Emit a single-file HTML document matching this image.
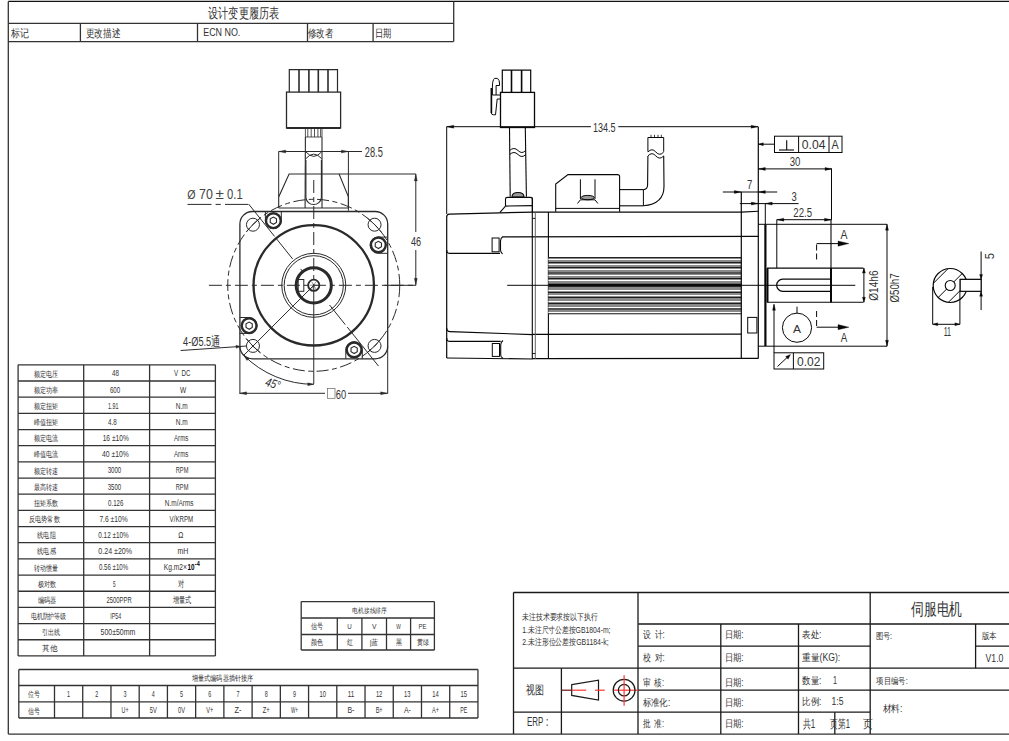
<!DOCTYPE html>
<html><head><meta charset="utf-8"><style>
html,body{margin:0;padding:0;background:#fff;width:1009px;height:741px;overflow:hidden}
svg{display:block}
text{font-family:"Liberation Sans", sans-serif}
</style></head><body>
<svg width="1009" height="741" viewBox="0 0 1009 741">
<rect x="0" y="0" width="1009" height="741" fill="#fff"/>
<line x1="8.30" y1="1.40" x2="1009.00" y2="1.40" stroke="#111" stroke-width="1.3"/>
<line x1="8.30" y1="1.40" x2="8.30" y2="734.00" stroke="#333" stroke-width="1.3"/>
<line x1="8.30" y1="734.20" x2="1009.00" y2="734.20" stroke="#333" stroke-width="1.3"/>
<line x1="8.30" y1="23.30" x2="453.70" y2="23.30" stroke="#333" stroke-width="1.3"/>
<line x1="8.30" y1="41.60" x2="453.70" y2="41.60" stroke="#333" stroke-width="1.3"/>
<line x1="453.70" y1="1.40" x2="453.70" y2="41.60" stroke="#333" stroke-width="1.3"/>
<line x1="80.40" y1="23.30" x2="80.40" y2="41.60" stroke="#333" stroke-width="1.3"/>
<line x1="197.50" y1="23.30" x2="197.50" y2="41.60" stroke="#333" stroke-width="1.3"/>
<line x1="307.50" y1="23.30" x2="307.50" y2="41.60" stroke="#333" stroke-width="1.3"/>
<line x1="373.10" y1="23.30" x2="373.10" y2="41.60" stroke="#333" stroke-width="1.3"/>
<text x="208.00" y="17.50" font-size="14" fill="#333" font-weight="normal" font-style="normal" textLength="71.20" lengthAdjust="spacingAndGlyphs" style='font-family:"Liberation Sans", sans-serif'>设计变更履历表</text>
<text x="11.10" y="36.60" font-size="11" fill="#333" font-weight="normal" font-style="normal" textLength="18.10" lengthAdjust="spacingAndGlyphs" style='font-family:"Liberation Sans", sans-serif'>标记</text>
<text x="85.50" y="36.60" font-size="11" fill="#333" font-weight="normal" font-style="normal" textLength="34.70" lengthAdjust="spacingAndGlyphs" style='font-family:"Liberation Sans", sans-serif'>更改描述</text>
<text x="203.20" y="36.00" font-size="10.5" fill="#333" font-weight="normal" font-style="normal" textLength="37.10" lengthAdjust="spacingAndGlyphs" style='font-family:"Liberation Sans", sans-serif'>ECN NO.</text>
<text x="307.50" y="36.60" font-size="11" fill="#333" font-weight="normal" font-style="normal" textLength="25.50" lengthAdjust="spacingAndGlyphs" style='font-family:"Liberation Sans", sans-serif'>修改者</text>
<text x="374.60" y="36.60" font-size="11" fill="#333" font-weight="normal" font-style="normal" textLength="16.60" lengthAdjust="spacingAndGlyphs" style='font-family:"Liberation Sans", sans-serif'>日期</text>
<line x1="18.10" y1="364.85" x2="215.40" y2="364.85" stroke="#333" stroke-width="1.3"/>
<line x1="18.10" y1="381.02" x2="215.40" y2="381.02" stroke="#333" stroke-width="1.3"/>
<line x1="18.10" y1="397.19" x2="215.40" y2="397.19" stroke="#333" stroke-width="1.3"/>
<line x1="18.10" y1="413.36" x2="215.40" y2="413.36" stroke="#333" stroke-width="1.3"/>
<line x1="18.10" y1="429.53" x2="215.40" y2="429.53" stroke="#333" stroke-width="1.3"/>
<line x1="18.10" y1="445.70" x2="215.40" y2="445.70" stroke="#333" stroke-width="1.3"/>
<line x1="18.10" y1="461.87" x2="215.40" y2="461.87" stroke="#333" stroke-width="1.3"/>
<line x1="18.10" y1="478.04" x2="215.40" y2="478.04" stroke="#333" stroke-width="1.3"/>
<line x1="18.10" y1="494.21" x2="215.40" y2="494.21" stroke="#333" stroke-width="1.3"/>
<line x1="18.10" y1="510.38" x2="215.40" y2="510.38" stroke="#333" stroke-width="1.3"/>
<line x1="18.10" y1="526.55" x2="215.40" y2="526.55" stroke="#333" stroke-width="1.3"/>
<line x1="18.10" y1="542.72" x2="215.40" y2="542.72" stroke="#333" stroke-width="1.3"/>
<line x1="18.10" y1="558.89" x2="215.40" y2="558.89" stroke="#333" stroke-width="1.3"/>
<line x1="18.10" y1="575.06" x2="215.40" y2="575.06" stroke="#333" stroke-width="1.3"/>
<line x1="18.10" y1="591.23" x2="215.40" y2="591.23" stroke="#333" stroke-width="1.3"/>
<line x1="18.10" y1="607.40" x2="215.40" y2="607.40" stroke="#333" stroke-width="1.3"/>
<line x1="18.10" y1="623.57" x2="215.40" y2="623.57" stroke="#333" stroke-width="1.3"/>
<line x1="18.10" y1="639.74" x2="215.40" y2="639.74" stroke="#333" stroke-width="1.3"/>
<line x1="18.10" y1="655.91" x2="215.40" y2="655.91" stroke="#333" stroke-width="1.3"/>
<line x1="18.10" y1="364.85" x2="18.10" y2="655.91" stroke="#333" stroke-width="1.3"/>
<line x1="83.70" y1="364.85" x2="83.70" y2="655.91" stroke="#333" stroke-width="1.3"/>
<line x1="149.60" y1="364.85" x2="149.60" y2="655.91" stroke="#333" stroke-width="1.3"/>
<line x1="215.40" y1="364.85" x2="215.40" y2="655.91" stroke="#333" stroke-width="1.3"/>
<text x="33.50" y="376.54" font-size="8" fill="#333" font-weight="normal" font-style="normal" textLength="24.00" lengthAdjust="spacingAndGlyphs" style='font-family:"Liberation Sans", sans-serif'>额定电压</text>
<text x="112.00" y="376.33" font-size="8.5" fill="#333" font-weight="normal" font-style="normal" textLength="7.00" lengthAdjust="spacingAndGlyphs" style='font-family:"Liberation Sans", sans-serif'>48</text>
<text x="174.00" y="376.33" font-size="8.5" fill="#333" font-weight="normal" font-style="normal" textLength="16.50" lengthAdjust="spacingAndGlyphs" style='font-family:"Liberation Sans", sans-serif'>V&#160;&#160;DC</text>
<text x="33.50" y="392.71" font-size="8" fill="#333" font-weight="normal" font-style="normal" textLength="24.00" lengthAdjust="spacingAndGlyphs" style='font-family:"Liberation Sans", sans-serif'>额定功率</text>
<text x="109.90" y="392.50" font-size="8.5" fill="#333" font-weight="normal" font-style="normal" textLength="10.20" lengthAdjust="spacingAndGlyphs" style='font-family:"Liberation Sans", sans-serif'>600</text>
<text x="180.00" y="392.50" font-size="8.5" fill="#333" font-weight="normal" font-style="normal" textLength="6.20" lengthAdjust="spacingAndGlyphs" style='font-family:"Liberation Sans", sans-serif'>W</text>
<text x="33.50" y="408.88" font-size="8" fill="#333" font-weight="normal" font-style="normal" textLength="24.00" lengthAdjust="spacingAndGlyphs" style='font-family:"Liberation Sans", sans-serif'>额定扭矩</text>
<text x="108.10" y="408.68" font-size="8.5" fill="#333" font-weight="normal" font-style="normal" textLength="10.30" lengthAdjust="spacingAndGlyphs" style='font-family:"Liberation Sans", sans-serif'>1.91</text>
<text x="175.70" y="408.68" font-size="8.5" fill="#333" font-weight="normal" font-style="normal" textLength="12.00" lengthAdjust="spacingAndGlyphs" style='font-family:"Liberation Sans", sans-serif'>N.m</text>
<text x="33.50" y="425.05" font-size="8" fill="#333" font-weight="normal" font-style="normal" textLength="24.00" lengthAdjust="spacingAndGlyphs" style='font-family:"Liberation Sans", sans-serif'>峰值扭矩</text>
<text x="108.10" y="424.85" font-size="8.5" fill="#333" font-weight="normal" font-style="normal" textLength="8.70" lengthAdjust="spacingAndGlyphs" style='font-family:"Liberation Sans", sans-serif'>4.8</text>
<text x="175.70" y="424.85" font-size="8.5" fill="#333" font-weight="normal" font-style="normal" textLength="12.00" lengthAdjust="spacingAndGlyphs" style='font-family:"Liberation Sans", sans-serif'>N.m</text>
<text x="33.50" y="441.22" font-size="8" fill="#333" font-weight="normal" font-style="normal" textLength="24.00" lengthAdjust="spacingAndGlyphs" style='font-family:"Liberation Sans", sans-serif'>额定电流</text>
<text x="102.70" y="441.01" font-size="8.5" fill="#333" font-weight="normal" font-style="normal" textLength="26.10" lengthAdjust="spacingAndGlyphs" style='font-family:"Liberation Sans", sans-serif'>16 ±10%</text>
<text x="174.00" y="441.01" font-size="8.5" fill="#333" font-weight="normal" font-style="normal" textLength="14.40" lengthAdjust="spacingAndGlyphs" style='font-family:"Liberation Sans", sans-serif'>Arms</text>
<text x="33.50" y="457.39" font-size="8" fill="#333" font-weight="normal" font-style="normal" textLength="24.00" lengthAdjust="spacingAndGlyphs" style='font-family:"Liberation Sans", sans-serif'>峰值电流</text>
<text x="102.00" y="457.19" font-size="8.5" fill="#333" font-weight="normal" font-style="normal" textLength="26.80" lengthAdjust="spacingAndGlyphs" style='font-family:"Liberation Sans", sans-serif'>40 ±10%</text>
<text x="174.00" y="457.19" font-size="8.5" fill="#333" font-weight="normal" font-style="normal" textLength="14.40" lengthAdjust="spacingAndGlyphs" style='font-family:"Liberation Sans", sans-serif'>Arms</text>
<text x="33.50" y="473.56" font-size="8" fill="#333" font-weight="normal" font-style="normal" textLength="24.00" lengthAdjust="spacingAndGlyphs" style='font-family:"Liberation Sans", sans-serif'>额定转速</text>
<text x="107.70" y="473.36" font-size="8.5" fill="#333" font-weight="normal" font-style="normal" textLength="13.50" lengthAdjust="spacingAndGlyphs" style='font-family:"Liberation Sans", sans-serif'>3000</text>
<text x="175.70" y="473.36" font-size="8.5" fill="#333" font-weight="normal" font-style="normal" textLength="12.70" lengthAdjust="spacingAndGlyphs" style='font-family:"Liberation Sans", sans-serif'>RPM</text>
<text x="33.50" y="489.73" font-size="8" fill="#333" font-weight="normal" font-style="normal" textLength="24.00" lengthAdjust="spacingAndGlyphs" style='font-family:"Liberation Sans", sans-serif'>最高转速</text>
<text x="107.70" y="489.52" font-size="8.5" fill="#333" font-weight="normal" font-style="normal" textLength="13.50" lengthAdjust="spacingAndGlyphs" style='font-family:"Liberation Sans", sans-serif'>3500</text>
<text x="175.70" y="489.52" font-size="8.5" fill="#333" font-weight="normal" font-style="normal" textLength="12.70" lengthAdjust="spacingAndGlyphs" style='font-family:"Liberation Sans", sans-serif'>RPM</text>
<text x="33.50" y="505.90" font-size="8" fill="#333" font-weight="normal" font-style="normal" textLength="24.00" lengthAdjust="spacingAndGlyphs" style='font-family:"Liberation Sans", sans-serif'>扭矩系数</text>
<text x="108.10" y="505.70" font-size="8.5" fill="#333" font-weight="normal" font-style="normal" textLength="15.30" lengthAdjust="spacingAndGlyphs" style='font-family:"Liberation Sans", sans-serif'>0.126</text>
<text x="164.80" y="505.70" font-size="8.5" fill="#333" font-weight="normal" font-style="normal" textLength="28.80" lengthAdjust="spacingAndGlyphs" style='font-family:"Liberation Sans", sans-serif'>N.m/Arms</text>
<text x="29.20" y="522.07" font-size="8" fill="#333" font-weight="normal" font-style="normal" textLength="30.50" lengthAdjust="spacingAndGlyphs" style='font-family:"Liberation Sans", sans-serif'>反电势常数</text>
<text x="99.40" y="521.87" font-size="8.5" fill="#333" font-weight="normal" font-style="normal" textLength="28.30" lengthAdjust="spacingAndGlyphs" style='font-family:"Liberation Sans", sans-serif'>7.6 ±10%</text>
<text x="169.60" y="521.87" font-size="8.5" fill="#333" font-weight="normal" font-style="normal" textLength="23.60" lengthAdjust="spacingAndGlyphs" style='font-family:"Liberation Sans", sans-serif'>V/KRPM</text>
<text x="37.30" y="538.24" font-size="8" fill="#333" font-weight="normal" font-style="normal" textLength="18.50" lengthAdjust="spacingAndGlyphs" style='font-family:"Liberation Sans", sans-serif'>线电阻</text>
<text x="98.30" y="538.03" font-size="8.5" fill="#333" font-weight="normal" font-style="normal" textLength="30.50" lengthAdjust="spacingAndGlyphs" style='font-family:"Liberation Sans", sans-serif'>0.12 ±10%</text>
<text x="178.30" y="538.03" font-size="8.5" fill="#333" font-weight="normal" font-style="normal" textLength="5.10" lengthAdjust="spacingAndGlyphs" style='font-family:"Liberation Sans", sans-serif'>Ω</text>
<text x="37.30" y="554.41" font-size="8" fill="#333" font-weight="normal" font-style="normal" textLength="18.50" lengthAdjust="spacingAndGlyphs" style='font-family:"Liberation Sans", sans-serif'>线电感</text>
<text x="98.30" y="554.21" font-size="8.5" fill="#333" font-weight="normal" font-style="normal" textLength="33.80" lengthAdjust="spacingAndGlyphs" style='font-family:"Liberation Sans", sans-serif'>0.24  ±20%</text>
<text x="177.50" y="554.21" font-size="8.5" fill="#333" font-weight="normal" font-style="normal" textLength="10.90" lengthAdjust="spacingAndGlyphs" style='font-family:"Liberation Sans", sans-serif'>mH</text>
<text x="33.50" y="570.58" font-size="8" fill="#333" font-weight="normal" font-style="normal" textLength="24.00" lengthAdjust="spacingAndGlyphs" style='font-family:"Liberation Sans", sans-serif'>转动惯量</text>
<text x="99.00" y="570.38" font-size="8.5" fill="#333" font-weight="normal" font-style="normal" textLength="29.20" lengthAdjust="spacingAndGlyphs" style='font-family:"Liberation Sans", sans-serif'>0.56 ±10%</text>
<text x="163.70" y="570.38" font-size="8.5" fill="#333" font-weight="normal" font-style="normal" textLength="23.30" lengthAdjust="spacingAndGlyphs" style='font-family:"Liberation Sans", sans-serif'>Kg.m2×</text>
<text x="37.90" y="586.75" font-size="8" fill="#333" font-weight="normal" font-style="normal" textLength="18.30" lengthAdjust="spacingAndGlyphs" style='font-family:"Liberation Sans", sans-serif'>极对数</text>
<text x="112.90" y="586.54" font-size="8.5" fill="#333" font-weight="normal" font-style="normal" textLength="2.60" lengthAdjust="spacingAndGlyphs" style='font-family:"Liberation Sans", sans-serif'>5</text>
<text x="178.30" y="586.54" font-size="8.5" fill="#333" font-weight="normal" font-style="normal" textLength="6.10" lengthAdjust="spacingAndGlyphs" style='font-family:"Liberation Sans", sans-serif'>对</text>
<text x="37.90" y="602.92" font-size="8" fill="#333" font-weight="normal" font-style="normal" textLength="18.30" lengthAdjust="spacingAndGlyphs" style='font-family:"Liberation Sans", sans-serif'>编码器</text>
<text x="106.40" y="602.72" font-size="8.5" fill="#333" font-weight="normal" font-style="normal" textLength="25.30" lengthAdjust="spacingAndGlyphs" style='font-family:"Liberation Sans", sans-serif'>2500PPR</text>
<text x="172.50" y="602.72" font-size="8.5" fill="#333" font-weight="normal" font-style="normal" textLength="18.50" lengthAdjust="spacingAndGlyphs" style='font-family:"Liberation Sans", sans-serif'>增量式</text>
<text x="30.70" y="619.09" font-size="8" fill="#333" font-weight="normal" font-style="normal" textLength="35.60" lengthAdjust="spacingAndGlyphs" style='font-family:"Liberation Sans", sans-serif'>电机防护等级</text>
<text x="110.30" y="618.88" font-size="8.5" fill="#333" font-weight="normal" font-style="normal" textLength="10.90" lengthAdjust="spacingAndGlyphs" style='font-family:"Liberation Sans", sans-serif'>IP54</text>
<text x="41.60" y="635.25" font-size="8" fill="#333" font-weight="normal" font-style="normal" textLength="18.10" lengthAdjust="spacingAndGlyphs" style='font-family:"Liberation Sans", sans-serif'>引出线</text>
<text x="100.50" y="635.05" font-size="8.5" fill="#333" font-weight="normal" font-style="normal" textLength="34.90" lengthAdjust="spacingAndGlyphs" style='font-family:"Liberation Sans", sans-serif'>500±50mm</text>
<text x="42.30" y="651.43" font-size="8" fill="#333" font-weight="normal" font-style="normal" textLength="15.20" lengthAdjust="spacingAndGlyphs" style='font-family:"Liberation Sans", sans-serif'>其他</text>
<text x="187.60" y="570.38" font-size="8.5" fill="#000" font-weight="bold" font-style="normal" textLength="7.00" lengthAdjust="spacingAndGlyphs" style='font-family:"Liberation Sans", sans-serif'>10</text>
<text x="194.80" y="565.77" font-size="7" fill="#000" font-weight="bold" font-style="normal" textLength="4.90" lengthAdjust="spacingAndGlyphs" style='font-family:"Liberation Sans", sans-serif'>-4</text>
<line x1="18.80" y1="669.50" x2="477.95" y2="669.50" stroke="#333" stroke-width="1.3"/>
<line x1="18.80" y1="685.50" x2="477.95" y2="685.50" stroke="#333" stroke-width="1.3"/>
<line x1="18.80" y1="701.80" x2="477.95" y2="701.80" stroke="#333" stroke-width="1.3"/>
<line x1="18.80" y1="718.00" x2="477.95" y2="718.00" stroke="#333" stroke-width="1.3"/>
<line x1="18.80" y1="669.50" x2="18.80" y2="718.00" stroke="#333" stroke-width="1.3"/>
<line x1="477.95" y1="669.50" x2="477.95" y2="718.00" stroke="#333" stroke-width="1.3"/>
<line x1="54.50" y1="685.50" x2="54.50" y2="718.00" stroke="#333" stroke-width="1.3"/>
<line x1="82.73" y1="685.50" x2="82.73" y2="718.00" stroke="#333" stroke-width="1.3"/>
<line x1="110.96" y1="685.50" x2="110.96" y2="718.00" stroke="#333" stroke-width="1.3"/>
<line x1="139.19" y1="685.50" x2="139.19" y2="718.00" stroke="#333" stroke-width="1.3"/>
<line x1="167.42" y1="685.50" x2="167.42" y2="718.00" stroke="#333" stroke-width="1.3"/>
<line x1="195.65" y1="685.50" x2="195.65" y2="718.00" stroke="#333" stroke-width="1.3"/>
<line x1="223.88" y1="685.50" x2="223.88" y2="718.00" stroke="#333" stroke-width="1.3"/>
<line x1="252.11" y1="685.50" x2="252.11" y2="718.00" stroke="#333" stroke-width="1.3"/>
<line x1="280.34" y1="685.50" x2="280.34" y2="718.00" stroke="#333" stroke-width="1.3"/>
<line x1="308.57" y1="685.50" x2="308.57" y2="718.00" stroke="#333" stroke-width="1.3"/>
<line x1="336.80" y1="685.50" x2="336.80" y2="718.00" stroke="#333" stroke-width="1.3"/>
<line x1="365.03" y1="685.50" x2="365.03" y2="718.00" stroke="#333" stroke-width="1.3"/>
<line x1="393.26" y1="685.50" x2="393.26" y2="718.00" stroke="#333" stroke-width="1.3"/>
<line x1="421.49" y1="685.50" x2="421.49" y2="718.00" stroke="#333" stroke-width="1.3"/>
<line x1="449.72" y1="685.50" x2="449.72" y2="718.00" stroke="#333" stroke-width="1.3"/>
<text x="192.00" y="680.50" font-size="7.5" fill="#333" font-weight="normal" font-style="normal" textLength="61.00" lengthAdjust="spacingAndGlyphs" style='font-family:"Liberation Sans", sans-serif'>增量式编码器插针接序</text>
<text x="27.80" y="697.30" font-size="8" fill="#333" font-weight="normal" font-style="normal" textLength="11.90" lengthAdjust="spacingAndGlyphs" style='font-family:"Liberation Sans", sans-serif'>位号</text>
<text x="27.80" y="713.50" font-size="8" fill="#333" font-weight="normal" font-style="normal" textLength="11.90" lengthAdjust="spacingAndGlyphs" style='font-family:"Liberation Sans", sans-serif'>信号</text>
<text x="67.12" y="697.00" font-size="8.5" fill="#333" font-weight="normal" font-style="normal" textLength="3.00" lengthAdjust="spacingAndGlyphs" style='font-family:"Liberation Sans", sans-serif'>1</text>
<text x="95.34" y="697.00" font-size="8.5" fill="#333" font-weight="normal" font-style="normal" textLength="3.00" lengthAdjust="spacingAndGlyphs" style='font-family:"Liberation Sans", sans-serif'>2</text>
<text x="123.58" y="697.00" font-size="8.5" fill="#333" font-weight="normal" font-style="normal" textLength="3.00" lengthAdjust="spacingAndGlyphs" style='font-family:"Liberation Sans", sans-serif'>3</text>
<text x="121.58" y="713.20" font-size="8.5" fill="#333" font-weight="normal" font-style="normal" textLength="7.00" lengthAdjust="spacingAndGlyphs" style='font-family:"Liberation Sans", sans-serif'>U+</text>
<text x="151.81" y="697.00" font-size="8.5" fill="#333" font-weight="normal" font-style="normal" textLength="3.00" lengthAdjust="spacingAndGlyphs" style='font-family:"Liberation Sans", sans-serif'>4</text>
<text x="149.81" y="713.20" font-size="8.5" fill="#333" font-weight="normal" font-style="normal" textLength="7.00" lengthAdjust="spacingAndGlyphs" style='font-family:"Liberation Sans", sans-serif'>5V</text>
<text x="180.04" y="697.00" font-size="8.5" fill="#333" font-weight="normal" font-style="normal" textLength="3.00" lengthAdjust="spacingAndGlyphs" style='font-family:"Liberation Sans", sans-serif'>5</text>
<text x="178.04" y="713.20" font-size="8.5" fill="#333" font-weight="normal" font-style="normal" textLength="7.00" lengthAdjust="spacingAndGlyphs" style='font-family:"Liberation Sans", sans-serif'>0V</text>
<text x="208.26" y="697.00" font-size="8.5" fill="#333" font-weight="normal" font-style="normal" textLength="3.00" lengthAdjust="spacingAndGlyphs" style='font-family:"Liberation Sans", sans-serif'>6</text>
<text x="206.26" y="713.20" font-size="8.5" fill="#333" font-weight="normal" font-style="normal" textLength="7.00" lengthAdjust="spacingAndGlyphs" style='font-family:"Liberation Sans", sans-serif'>V+</text>
<text x="236.50" y="697.00" font-size="8.5" fill="#333" font-weight="normal" font-style="normal" textLength="3.00" lengthAdjust="spacingAndGlyphs" style='font-family:"Liberation Sans", sans-serif'>7</text>
<text x="234.50" y="713.20" font-size="8.5" fill="#333" font-weight="normal" font-style="normal" textLength="7.00" lengthAdjust="spacingAndGlyphs" style='font-family:"Liberation Sans", sans-serif'>Z-</text>
<text x="264.73" y="697.00" font-size="8.5" fill="#333" font-weight="normal" font-style="normal" textLength="3.00" lengthAdjust="spacingAndGlyphs" style='font-family:"Liberation Sans", sans-serif'>8</text>
<text x="262.73" y="713.20" font-size="8.5" fill="#333" font-weight="normal" font-style="normal" textLength="7.00" lengthAdjust="spacingAndGlyphs" style='font-family:"Liberation Sans", sans-serif'>Z+</text>
<text x="292.96" y="697.00" font-size="8.5" fill="#333" font-weight="normal" font-style="normal" textLength="3.00" lengthAdjust="spacingAndGlyphs" style='font-family:"Liberation Sans", sans-serif'>9</text>
<text x="290.96" y="713.20" font-size="8.5" fill="#333" font-weight="normal" font-style="normal" textLength="7.00" lengthAdjust="spacingAndGlyphs" style='font-family:"Liberation Sans", sans-serif'>W+</text>
<text x="319.44" y="697.00" font-size="8.5" fill="#333" font-weight="normal" font-style="normal" textLength="6.50" lengthAdjust="spacingAndGlyphs" style='font-family:"Liberation Sans", sans-serif'>10</text>
<text x="347.67" y="697.00" font-size="8.5" fill="#333" font-weight="normal" font-style="normal" textLength="6.50" lengthAdjust="spacingAndGlyphs" style='font-family:"Liberation Sans", sans-serif'>11</text>
<text x="347.42" y="713.20" font-size="8.5" fill="#333" font-weight="normal" font-style="normal" textLength="7.00" lengthAdjust="spacingAndGlyphs" style='font-family:"Liberation Sans", sans-serif'>B-</text>
<text x="375.89" y="697.00" font-size="8.5" fill="#333" font-weight="normal" font-style="normal" textLength="6.50" lengthAdjust="spacingAndGlyphs" style='font-family:"Liberation Sans", sans-serif'>12</text>
<text x="375.64" y="713.20" font-size="8.5" fill="#333" font-weight="normal" font-style="normal" textLength="7.00" lengthAdjust="spacingAndGlyphs" style='font-family:"Liberation Sans", sans-serif'>B+</text>
<text x="404.12" y="697.00" font-size="8.5" fill="#333" font-weight="normal" font-style="normal" textLength="6.50" lengthAdjust="spacingAndGlyphs" style='font-family:"Liberation Sans", sans-serif'>13</text>
<text x="403.88" y="713.20" font-size="8.5" fill="#333" font-weight="normal" font-style="normal" textLength="7.00" lengthAdjust="spacingAndGlyphs" style='font-family:"Liberation Sans", sans-serif'>A-</text>
<text x="432.36" y="697.00" font-size="8.5" fill="#333" font-weight="normal" font-style="normal" textLength="6.50" lengthAdjust="spacingAndGlyphs" style='font-family:"Liberation Sans", sans-serif'>14</text>
<text x="432.11" y="713.20" font-size="8.5" fill="#333" font-weight="normal" font-style="normal" textLength="7.00" lengthAdjust="spacingAndGlyphs" style='font-family:"Liberation Sans", sans-serif'>A+</text>
<text x="460.59" y="697.00" font-size="8.5" fill="#333" font-weight="normal" font-style="normal" textLength="6.50" lengthAdjust="spacingAndGlyphs" style='font-family:"Liberation Sans", sans-serif'>15</text>
<text x="460.34" y="713.20" font-size="8.5" fill="#333" font-weight="normal" font-style="normal" textLength="7.00" lengthAdjust="spacingAndGlyphs" style='font-family:"Liberation Sans", sans-serif'>PE</text>
<line x1="301.20" y1="601.60" x2="434.40" y2="601.60" stroke="#333" stroke-width="1.3"/>
<line x1="301.20" y1="618.00" x2="434.40" y2="618.00" stroke="#333" stroke-width="1.3"/>
<line x1="301.20" y1="634.50" x2="434.40" y2="634.50" stroke="#333" stroke-width="1.3"/>
<line x1="301.20" y1="650.00" x2="434.40" y2="650.00" stroke="#333" stroke-width="1.3"/>
<line x1="301.20" y1="601.60" x2="301.20" y2="650.00" stroke="#333" stroke-width="1.3"/>
<line x1="434.40" y1="601.60" x2="434.40" y2="650.00" stroke="#333" stroke-width="1.3"/>
<line x1="337.30" y1="618.00" x2="337.30" y2="650.00" stroke="#333" stroke-width="1.3"/>
<line x1="361.90" y1="618.00" x2="361.90" y2="650.00" stroke="#333" stroke-width="1.3"/>
<line x1="386.50" y1="618.00" x2="386.50" y2="650.00" stroke="#333" stroke-width="1.3"/>
<line x1="410.60" y1="618.00" x2="410.60" y2="650.00" stroke="#333" stroke-width="1.3"/>
<text x="352.00" y="613.00" font-size="7" fill="#333" font-weight="normal" font-style="normal" textLength="35.00" lengthAdjust="spacingAndGlyphs" style='font-family:"Liberation Sans", sans-serif'>电机接线排序</text>
<text x="311.00" y="629.30" font-size="7.5" fill="#333" font-weight="normal" font-style="normal" textLength="12.00" lengthAdjust="spacingAndGlyphs" style='font-family:"Liberation Sans", sans-serif'>信号</text>
<text x="311.00" y="645.30" font-size="7.5" fill="#333" font-weight="normal" font-style="normal" textLength="12.00" lengthAdjust="spacingAndGlyphs" style='font-family:"Liberation Sans", sans-serif'>颜色</text>
<text x="347.35" y="629.00" font-size="8" fill="#333" font-weight="normal" font-style="normal" textLength="4.50" lengthAdjust="spacingAndGlyphs" style='font-family:"Liberation Sans", sans-serif'>U</text>
<text x="346.60" y="645.30" font-size="7.5" fill="#333" font-weight="normal" font-style="normal" textLength="6.00" lengthAdjust="spacingAndGlyphs" style='font-family:"Liberation Sans", sans-serif'>红</text>
<text x="371.95" y="629.00" font-size="8" fill="#333" font-weight="normal" font-style="normal" textLength="4.50" lengthAdjust="spacingAndGlyphs" style='font-family:"Liberation Sans", sans-serif'>V</text>
<text x="369.70" y="645.30" font-size="7.5" fill="#333" font-weight="normal" font-style="normal" textLength="9.00" lengthAdjust="spacingAndGlyphs" style='font-family:"Liberation Sans", sans-serif'>|蓝</text>
<text x="396.30" y="629.00" font-size="8" fill="#333" font-weight="normal" font-style="normal" textLength="4.50" lengthAdjust="spacingAndGlyphs" style='font-family:"Liberation Sans", sans-serif'>W</text>
<text x="395.55" y="645.30" font-size="7.5" fill="#333" font-weight="normal" font-style="normal" textLength="6.00" lengthAdjust="spacingAndGlyphs" style='font-family:"Liberation Sans", sans-serif'>黑</text>
<text x="418.50" y="629.00" font-size="8" fill="#333" font-weight="normal" font-style="normal" textLength="8.00" lengthAdjust="spacingAndGlyphs" style='font-family:"Liberation Sans", sans-serif'>PE</text>
<text x="416.50" y="645.30" font-size="7.5" fill="#333" font-weight="normal" font-style="normal" textLength="12.00" lengthAdjust="spacingAndGlyphs" style='font-family:"Liberation Sans", sans-serif'>黄绿</text>
<line x1="513.50" y1="592.50" x2="1009.00" y2="592.50" stroke="#1a1a1a" stroke-width="1.3"/>
<line x1="513.50" y1="592.40" x2="513.50" y2="734.00" stroke="#1a1a1a" stroke-width="1.3"/>
<line x1="638.00" y1="592.50" x2="638.00" y2="734.00" stroke="#1a1a1a" stroke-width="1.3"/>
<line x1="513.50" y1="668.20" x2="638.30" y2="668.20" stroke="#1a1a1a" stroke-width="1.3"/>
<line x1="513.50" y1="712.20" x2="638.30" y2="712.20" stroke="#1a1a1a" stroke-width="1.3"/>
<line x1="561.40" y1="668.20" x2="561.40" y2="734.00" stroke="#1a1a1a" stroke-width="1.3"/>
<line x1="638.30" y1="624.00" x2="870.20" y2="624.00" stroke="#1a1a1a" stroke-width="1.3"/>
<line x1="638.30" y1="646.10" x2="870.20" y2="646.10" stroke="#1a1a1a" stroke-width="1.3"/>
<line x1="638.30" y1="668.20" x2="870.20" y2="668.20" stroke="#1a1a1a" stroke-width="1.3"/>
<line x1="638.30" y1="690.20" x2="870.20" y2="690.20" stroke="#1a1a1a" stroke-width="1.3"/>
<line x1="638.30" y1="712.20" x2="870.20" y2="712.20" stroke="#1a1a1a" stroke-width="1.3"/>
<line x1="720.80" y1="624.00" x2="720.80" y2="734.00" stroke="#1a1a1a" stroke-width="1.3"/>
<line x1="798.50" y1="624.00" x2="798.50" y2="734.00" stroke="#1a1a1a" stroke-width="1.3"/>
<line x1="834.80" y1="712.20" x2="834.80" y2="734.00" stroke="#1a1a1a" stroke-width="1.3"/>
<line x1="870.20" y1="592.40" x2="870.20" y2="734.00" stroke="#1a1a1a" stroke-width="1.3"/>
<line x1="870.20" y1="624.00" x2="1009.00" y2="624.00" stroke="#1a1a1a" stroke-width="1.3"/>
<line x1="975.60" y1="624.00" x2="975.60" y2="668.20" stroke="#1a1a1a" stroke-width="1.3"/>
<line x1="975.60" y1="646.10" x2="1009.00" y2="646.10" stroke="#1a1a1a" stroke-width="1.3"/>
<line x1="870.20" y1="668.20" x2="1009.00" y2="668.20" stroke="#1a1a1a" stroke-width="1.3"/>
<line x1="870.20" y1="690.20" x2="1009.00" y2="690.20" stroke="#1a1a1a" stroke-width="1.3"/>
<text x="522.20" y="620.30" font-size="9" fill="#333" font-weight="normal" font-style="normal" textLength="75.40" lengthAdjust="spacingAndGlyphs" style='font-family:"Liberation Sans", sans-serif'>未注技术要求按以下执行</text>
<text x="522.20" y="633.00" font-size="9" fill="#333" font-weight="normal" font-style="normal" textLength="88.30" lengthAdjust="spacingAndGlyphs" style='font-family:"Liberation Sans", sans-serif'>1.未注尺寸公差按GB1804-m;</text>
<text x="522.20" y="645.40" font-size="9" fill="#333" font-weight="normal" font-style="normal" textLength="86.40" lengthAdjust="spacingAndGlyphs" style='font-family:"Liberation Sans", sans-serif'>2.未注形位公差按GB1184-k;</text>
<text x="525.80" y="694.20" font-size="12" fill="#333" font-weight="normal" font-style="normal" textLength="18.00" lengthAdjust="spacingAndGlyphs" style='font-family:"Liberation Sans", sans-serif'>视图</text>
<text x="527.00" y="726.40" font-size="13.5" fill="#333" font-weight="normal" font-style="normal" textLength="24.50" lengthAdjust="spacingAndGlyphs" style='font-family:"Liberation Sans", sans-serif'>ERP：</text>
<text x="642.50" y="638.40" font-size="10" fill="#333" font-weight="normal" font-style="normal" textLength="22.30" lengthAdjust="spacingAndGlyphs" style='font-family:"Liberation Sans", sans-serif'>设&#160;&#160;计:</text>
<text x="724.60" y="638.40" font-size="10" fill="#333" font-weight="normal" font-style="normal" textLength="18.90" lengthAdjust="spacingAndGlyphs" style='font-family:"Liberation Sans", sans-serif'>日期:</text>
<text x="642.50" y="660.60" font-size="10" fill="#333" font-weight="normal" font-style="normal" textLength="22.30" lengthAdjust="spacingAndGlyphs" style='font-family:"Liberation Sans", sans-serif'>校&#160;&#160;对:</text>
<text x="724.60" y="660.60" font-size="10" fill="#333" font-weight="normal" font-style="normal" textLength="18.90" lengthAdjust="spacingAndGlyphs" style='font-family:"Liberation Sans", sans-serif'>日期:</text>
<text x="642.50" y="686.00" font-size="10" fill="#333" font-weight="normal" font-style="normal" textLength="21.50" lengthAdjust="spacingAndGlyphs" style='font-family:"Liberation Sans", sans-serif'>审&#160;&#160;核:</text>
<text x="724.60" y="686.00" font-size="10" fill="#333" font-weight="normal" font-style="normal" textLength="18.90" lengthAdjust="spacingAndGlyphs" style='font-family:"Liberation Sans", sans-serif'>日期:</text>
<text x="642.50" y="706.30" font-size="10" fill="#333" font-weight="normal" font-style="normal" textLength="27.80" lengthAdjust="spacingAndGlyphs" style='font-family:"Liberation Sans", sans-serif'>标准化:</text>
<text x="724.60" y="706.30" font-size="10" fill="#333" font-weight="normal" font-style="normal" textLength="18.90" lengthAdjust="spacingAndGlyphs" style='font-family:"Liberation Sans", sans-serif'>日期:</text>
<text x="642.50" y="726.60" font-size="10" fill="#333" font-weight="normal" font-style="normal" textLength="21.50" lengthAdjust="spacingAndGlyphs" style='font-family:"Liberation Sans", sans-serif'>批&#160;&#160;准:</text>
<text x="724.60" y="726.60" font-size="10" fill="#333" font-weight="normal" font-style="normal" textLength="18.90" lengthAdjust="spacingAndGlyphs" style='font-family:"Liberation Sans", sans-serif'>日期:</text>
<text x="802.20" y="638.40" font-size="10" fill="#333" font-weight="normal" font-style="normal" textLength="19.10" lengthAdjust="spacingAndGlyphs" style='font-family:"Liberation Sans", sans-serif'>表处:</text>
<text x="802.20" y="660.60" font-size="10" fill="#333" font-weight="normal" font-style="normal" textLength="38.00" lengthAdjust="spacingAndGlyphs" style='font-family:"Liberation Sans", sans-serif'>重量(KG):</text>
<text x="802.20" y="684.00" font-size="10" fill="#333" font-weight="normal" font-style="normal" textLength="19.10" lengthAdjust="spacingAndGlyphs" style='font-family:"Liberation Sans", sans-serif'>数量:</text>
<text x="833.00" y="684.00" font-size="10" fill="#333" font-weight="normal" font-style="normal" textLength="4.00" lengthAdjust="spacingAndGlyphs" style='font-family:"Liberation Sans", sans-serif'>1</text>
<text x="802.20" y="704.70" font-size="10" fill="#333" font-weight="normal" font-style="normal" textLength="19.10" lengthAdjust="spacingAndGlyphs" style='font-family:"Liberation Sans", sans-serif'>比例:</text>
<text x="831.50" y="704.70" font-size="10" fill="#333" font-weight="normal" font-style="normal" textLength="12.00" lengthAdjust="spacingAndGlyphs" style='font-family:"Liberation Sans", sans-serif'>1:5</text>
<text x="802.80" y="727.80" font-size="12" fill="#333" font-weight="normal" font-style="normal" textLength="12.40" lengthAdjust="spacingAndGlyphs" style='font-family:"Liberation Sans", sans-serif'>共1</text>
<text x="830.40" y="727.80" font-size="12" fill="#333" font-weight="normal" font-style="normal" textLength="19.60" lengthAdjust="spacingAndGlyphs" style='font-family:"Liberation Sans", sans-serif'>页第1</text>
<text x="863.00" y="727.80" font-size="12" fill="#333" font-weight="normal" font-style="normal" textLength="9.80" lengthAdjust="spacingAndGlyphs" style='font-family:"Liberation Sans", sans-serif'>页</text>
<text x="911.00" y="615.00" font-size="17" fill="#333" font-weight="normal" font-style="normal" textLength="51.10" lengthAdjust="spacingAndGlyphs" style='font-family:"Liberation Sans", sans-serif'>伺服电机</text>
<text x="875.60" y="639.40" font-size="9" fill="#333" font-weight="normal" font-style="normal" textLength="16.50" lengthAdjust="spacingAndGlyphs" style='font-family:"Liberation Sans", sans-serif'>图号:</text>
<text x="981.60" y="639.40" font-size="9" fill="#333" font-weight="normal" font-style="normal" textLength="14.80" lengthAdjust="spacingAndGlyphs" style='font-family:"Liberation Sans", sans-serif'>版本</text>
<text x="985.50" y="661.80" font-size="10.5" fill="#333" font-weight="normal" font-style="normal" textLength="17.90" lengthAdjust="spacingAndGlyphs" style='font-family:"Liberation Sans", sans-serif'>V1.0</text>
<text x="876.30" y="683.50" font-size="9" fill="#333" font-weight="normal" font-style="normal" textLength="31.50" lengthAdjust="spacingAndGlyphs" style='font-family:"Liberation Sans", sans-serif'>项目编号:</text>
<text x="882.80" y="712.20" font-size="10" fill="#333" font-weight="normal" font-style="normal" textLength="19.60" lengthAdjust="spacingAndGlyphs" style='font-family:"Liberation Sans", sans-serif'>材料:</text>
<polygon points="571.70,684.70 598.50,680.20 598.50,700.00 571.70,695.40" fill="none" stroke="#1a1a1a" stroke-width="1.2"/>
<line x1="561.40" y1="690.20" x2="571.70" y2="690.20" stroke="#611" stroke-width="1.2"/>
<line x1="571.70" y1="690.20" x2="586.20" y2="690.20" stroke="#f33" stroke-width="1.2"/>
<line x1="594.90" y1="690.20" x2="604.80" y2="690.20" stroke="#f33" stroke-width="1.2"/>
<line x1="613.90" y1="690.20" x2="638.00" y2="690.20" stroke="#f33" stroke-width="1.2"/>
<circle cx="624.10" cy="690.20" r="10.90" fill="none" stroke="#1a1a1a" stroke-width="1.2"/>
<circle cx="624.10" cy="690.20" r="5.75" fill="none" stroke="#1a1a1a" stroke-width="1.2"/>
<line x1="624.10" y1="675.20" x2="624.10" y2="705.70" stroke="#f33" stroke-width="1.2"/>
<rect x="286.50" y="92.10" width="54.10" height="35.80" rx="0" fill="none" stroke="#2a2a2a" stroke-width="1.3"/>
<line x1="286.50" y1="127.90" x2="340.60" y2="127.90" stroke="#2a2a2a" stroke-width="2.0"/>
<polyline points="289.30,92.10 289.30,69.70 337.50,69.70 337.50,92.10" fill="none" stroke="#2a2a2a" stroke-width="1.2"/>
<line x1="299.00" y1="69.70" x2="299.00" y2="92.10" stroke="#2a2a2a" stroke-width="1.6"/>
<line x1="308.90" y1="69.70" x2="308.90" y2="92.10" stroke="#2a2a2a" stroke-width="1.6"/>
<line x1="318.30" y1="69.70" x2="318.30" y2="92.10" stroke="#2a2a2a" stroke-width="1.6"/>
<line x1="328.00" y1="69.70" x2="328.00" y2="92.10" stroke="#2a2a2a" stroke-width="1.6"/>
<line x1="305.40" y1="128.00" x2="305.40" y2="137.00" stroke="#2a2a2a" stroke-width="0.8"/>
<line x1="307.80" y1="128.00" x2="307.80" y2="137.00" stroke="#2a2a2a" stroke-width="0.8"/>
<line x1="311.20" y1="128.00" x2="311.20" y2="137.00" stroke="#2a2a2a" stroke-width="0.8"/>
<line x1="314.50" y1="128.00" x2="314.50" y2="137.00" stroke="#2a2a2a" stroke-width="0.8"/>
<line x1="317.90" y1="128.00" x2="317.90" y2="137.00" stroke="#2a2a2a" stroke-width="0.8"/>
<line x1="320.60" y1="128.00" x2="320.60" y2="137.00" stroke="#2a2a2a" stroke-width="0.8"/>
<line x1="322.00" y1="128.00" x2="322.00" y2="137.00" stroke="#2a2a2a" stroke-width="0.8"/>
<line x1="305.40" y1="137.00" x2="322.00" y2="137.00" stroke="#2a2a2a" stroke-width="0.8"/>
<line x1="305.40" y1="137.00" x2="305.10" y2="208.00" stroke="#2a2a2a" stroke-width="1.1"/>
<line x1="322.00" y1="137.00" x2="322.00" y2="208.00" stroke="#2a2a2a" stroke-width="1.1"/>
<path d="M305.8,151.8 Q313.7,161 321.7,151.8" fill="none" stroke="#2a2a2a" stroke-width="1.0"/>
<path d="M305.8,158.7 Q313.7,149.5 321.7,158.7" fill="none" stroke="#2a2a2a" stroke-width="1.0"/>
<path d="M305.9,160 L305.9,197.6 A7.8,7.8 0 0 0 321.4,197.6 L321.4,160" fill="none" stroke="#2a2a2a" stroke-width="1.1"/>
<polyline points="278.70,208.00 278.70,196.90 289.10,174.00 339.10,174.00 348.40,196.90 348.40,208.00" fill="none" stroke="#2a2a2a" stroke-width="1.1"/>
<line x1="278.70" y1="208.00" x2="348.40" y2="208.00" stroke="#2a2a2a" stroke-width="1.1"/>
<line x1="339.10" y1="174.00" x2="415.80" y2="174.00" stroke="#2a2a2a" stroke-width="1.0"/>
<line x1="278.70" y1="151.50" x2="278.70" y2="196.90" stroke="#2a2a2a" stroke-width="1.0"/>
<line x1="348.40" y1="151.50" x2="348.40" y2="210.80" stroke="#2a2a2a" stroke-width="1.0"/>
<line x1="278.70" y1="151.50" x2="362.00" y2="151.50" stroke="#2a2a2a" stroke-width="1.0"/>
<polygon points="278.70,151.50 285.70,150.00 285.70,153.00" fill="#2a2a2a" stroke="#2a2a2a" stroke-width="0.3"/>
<polygon points="348.40,151.50 341.40,153.00 341.40,150.00" fill="#2a2a2a" stroke="#2a2a2a" stroke-width="0.3"/>
<text x="364.80" y="157.00" font-size="14" fill="#333" font-weight="normal" font-style="normal" textLength="18.00" lengthAdjust="spacingAndGlyphs" style='font-family:"Liberation Sans", sans-serif'>28.5</text>
<rect x="239.90" y="211.50" width="147.80" height="147.30" rx="12.5" fill="none" stroke="#2a2a2a" stroke-width="1.3"/>
<circle cx="313.75" cy="285.30" r="86.00" fill="none" stroke="#2a2a2a" stroke-width="1.0" stroke-dasharray="12,3.5,5,3.5"/>
<circle cx="313.75" cy="285.30" r="60.20" fill="none" stroke="#2a2a2a" stroke-width="2.3"/>
<circle cx="313.75" cy="285.30" r="32.00" fill="none" stroke="#2a2a2a" stroke-width="1.0"/>
<circle cx="313.75" cy="285.30" r="29.60" fill="none" stroke="#2a2a2a" stroke-width="1.0"/>
<circle cx="313.75" cy="285.30" r="17.60" fill="none" stroke="#2a2a2a" stroke-width="3.0"/>
<circle cx="313.75" cy="285.30" r="5.60" fill="none" stroke="#2a2a2a" stroke-width="1.8"/>
<line x1="309.75" y1="285.30" x2="317.75" y2="285.30" stroke="#2a2a2a" stroke-width="0.5"/>
<line x1="311.75" y1="281.84" x2="315.75" y2="288.76" stroke="#2a2a2a" stroke-width="0.5"/>
<line x1="315.75" y1="281.84" x2="311.75" y2="288.76" stroke="#2a2a2a" stroke-width="0.5"/>
<rect x="298.20" y="279.50" width="5.60" height="11.80" rx="0" fill="none" stroke="#2a2a2a" stroke-width="1.0"/>
<line x1="208.90" y1="285.30" x2="415.60" y2="285.30" stroke="#2a2a2a" stroke-width="1.0" stroke-dasharray="13,4,5,4"/>
<line x1="313.75" y1="180.00" x2="313.75" y2="285.30" stroke="#2a2a2a" stroke-width="1.0" stroke-dasharray="13,4,5,4"/>
<line x1="313.75" y1="285.30" x2="313.75" y2="384.00" stroke="#2a2a2a" stroke-width="1.0"/>
<line x1="384.50" y1="285.30" x2="415.80" y2="285.30" stroke="#2a2a2a" stroke-width="1.0"/>
<line x1="187.50" y1="204.40" x2="211.50" y2="204.40" stroke="#2a2a2a" stroke-width="1.0"/>
<line x1="215.60" y1="204.40" x2="220.80" y2="204.40" stroke="#2a2a2a" stroke-width="1.0"/>
<line x1="225.00" y1="204.40" x2="248.00" y2="204.40" stroke="#2a2a2a" stroke-width="1.0"/>
<line x1="248.56" y1="203.96" x2="274.52" y2="236.36" stroke="#2a2a2a" stroke-width="1.0"/>
<line x1="276.53" y1="238.85" x2="292.73" y2="259.07" stroke="#2a2a2a" stroke-width="1.0"/>
<line x1="300.61" y1="268.91" x2="302.80" y2="271.64" stroke="#2a2a2a" stroke-width="1.0"/>
<line x1="329.52" y1="304.97" x2="345.28" y2="324.64" stroke="#2a2a2a" stroke-width="1.0"/>
<line x1="347.22" y1="327.06" x2="378.50" y2="366.09" stroke="#2a2a2a" stroke-width="1.0"/>
<text x="187.20" y="199.00" font-size="13" fill="#444" font-weight="normal" font-style="normal" textLength="8.30" lengthAdjust="spacingAndGlyphs" style='font-family:"Liberation Sans", sans-serif'>Ø</text>
<text x="199.00" y="199.00" font-size="14" fill="#444" font-weight="normal" font-style="normal" textLength="13.80" lengthAdjust="spacingAndGlyphs" style='font-family:"Liberation Sans", sans-serif'>70</text>
<text x="215.60" y="199.00" font-size="14" fill="#444" font-weight="normal" font-style="normal" textLength="8.40" lengthAdjust="spacingAndGlyphs" style='font-family:"Liberation Sans", sans-serif'>±</text>
<text x="227.10" y="199.00" font-size="14" fill="#444" font-weight="normal" font-style="normal" textLength="15.60" lengthAdjust="spacingAndGlyphs" style='font-family:"Liberation Sans", sans-serif'>0.1</text>
<circle cx="252.95" cy="224.70" r="6.50" fill="none" stroke="#2a2a2a" stroke-width="1.0"/>
<path d="M246.36,231.87 A86,86 0 0 1 260.10,218.08" fill="none" stroke="#2a2a2a" stroke-width="1.0"/>
<circle cx="374.55" cy="224.70" r="6.50" fill="none" stroke="#2a2a2a" stroke-width="1.0"/>
<path d="M367.40,218.08 A86,86 0 0 1 381.14,231.87" fill="none" stroke="#2a2a2a" stroke-width="1.0"/>
<circle cx="252.95" cy="345.90" r="6.50" fill="none" stroke="#2a2a2a" stroke-width="1.0"/>
<path d="M260.10,352.52 A86,86 0 0 1 246.36,338.73" fill="none" stroke="#2a2a2a" stroke-width="1.0"/>
<circle cx="374.55" cy="345.90" r="6.50" fill="none" stroke="#2a2a2a" stroke-width="1.0"/>
<path d="M381.14,338.73 A86,86 0 0 1 367.40,352.52" fill="none" stroke="#2a2a2a" stroke-width="1.0"/>
<circle cx="273.37" cy="220.68" r="7.40" fill="none" stroke="#2a2a2a" stroke-width="2.4"/>
<polygon points="273.37,224.28 270.25,222.48 270.25,218.88 273.37,217.08 276.49,218.88 276.49,222.48" fill="none" stroke="#2a2a2a" stroke-width="1.1"/>
<circle cx="378.37" cy="244.92" r="7.40" fill="none" stroke="#2a2a2a" stroke-width="2.4"/>
<polygon points="378.37,248.52 375.25,246.72 375.25,243.12 378.37,241.32 381.49,243.12 381.49,246.72" fill="none" stroke="#2a2a2a" stroke-width="1.1"/>
<circle cx="354.13" cy="349.92" r="7.40" fill="none" stroke="#2a2a2a" stroke-width="2.4"/>
<polygon points="354.13,353.52 351.01,351.72 351.01,348.12 354.13,346.32 357.25,348.12 357.25,351.72" fill="none" stroke="#2a2a2a" stroke-width="1.1"/>
<circle cx="249.13" cy="325.68" r="7.40" fill="none" stroke="#2a2a2a" stroke-width="2.4"/>
<polygon points="249.13,329.28 246.01,327.48 246.01,323.88 249.13,322.08 252.25,323.88 252.25,327.48" fill="none" stroke="#2a2a2a" stroke-width="1.1"/>
<path d="M265.4,211.5 L265.4,220.5 A7.95,7.95 0 0 0 281.3,220.5 L281.3,211.5" fill="none" stroke="#2a2a2a" stroke-width="1.0"/>
<path d="M387.6,237.1 L378.2,237.1 A8.1,8.1 0 0 0 378.2,253.3 L387.6,253.3" fill="none" stroke="#2a2a2a" stroke-width="1.0"/>
<path d="M345.8,358.8 L345.8,349.9 A8.25,8.25 0 0 1 362.3,349.9 L362.3,358.8" fill="none" stroke="#2a2a2a" stroke-width="1.0"/>
<path d="M239.6,317.5 L249.1,317.5 A7.95,7.95 0 0 1 249.1,333.4 L239.6,333.4" fill="none" stroke="#2a2a2a" stroke-width="1.0"/>
<line x1="415.80" y1="174.00" x2="415.80" y2="232.00" stroke="#2a2a2a" stroke-width="1.0"/>
<line x1="415.80" y1="250.00" x2="415.80" y2="285.30" stroke="#2a2a2a" stroke-width="1.0"/>
<polygon points="415.80,174.00 417.30,181.00 414.30,181.00" fill="#2a2a2a" stroke="#2a2a2a" stroke-width="0.3"/>
<polygon points="415.80,285.30 414.30,278.30 417.30,278.30" fill="#2a2a2a" stroke="#2a2a2a" stroke-width="0.3"/>
<text x="410.90" y="245.90" font-size="13" fill="#333" font-weight="normal" font-style="normal" textLength="10.10" lengthAdjust="spacingAndGlyphs" style='font-family:"Liberation Sans", sans-serif'>46</text>
<text x="183.10" y="345.80" font-size="13" fill="#333" font-weight="normal" font-style="normal" textLength="37.30" lengthAdjust="spacingAndGlyphs" style='font-family:"Liberation Sans", sans-serif'>4-Ø5.5通</text>
<line x1="180.70" y1="350.50" x2="246.70" y2="346.00" stroke="#2a2a2a" stroke-width="1.0"/>
<polygon points="241.00,346.40 236.12,348.25 235.91,345.25" fill="#2a2a2a" stroke="#2a2a2a" stroke-width="0.3"/>
<line x1="313.75" y1="285.30" x2="243.75" y2="355.30" stroke="#2a2a2a" stroke-width="1.0"/>
<path d="M243.75,355.30 A99,99 0 0 0 313.75,384.30" fill="none" stroke="#2a2a2a" stroke-width="1.0"/>
<polygon points="243.75,355.30 249.05,358.48 246.93,360.60" fill="#2a2a2a" stroke="#2a2a2a" stroke-width="0.3"/>
<polygon points="313.75,384.30 307.75,385.80 307.75,382.80" fill="#2a2a2a" stroke="#2a2a2a" stroke-width="0.3"/>
<text x="-8" y="4.6" font-size="12.5" fill="#333" font-style="italic" textLength="15" lengthAdjust="spacingAndGlyphs" transform="translate(273.5,383.5) rotate(18)">45°</text>
<line x1="239.90" y1="346.00" x2="239.90" y2="393.60" stroke="#2a2a2a" stroke-width="1.0"/>
<line x1="387.70" y1="346.00" x2="387.70" y2="393.60" stroke="#2a2a2a" stroke-width="1.0"/>
<line x1="239.60" y1="393.30" x2="325.00" y2="393.30" stroke="#2a2a2a" stroke-width="1.0"/>
<line x1="348.00" y1="393.30" x2="387.60" y2="393.30" stroke="#2a2a2a" stroke-width="1.0"/>
<polygon points="239.60,393.30 246.60,391.80 246.60,394.80" fill="#2a2a2a" stroke="#2a2a2a" stroke-width="0.3"/>
<polygon points="387.60,393.30 380.60,394.80 380.60,391.80" fill="#2a2a2a" stroke="#2a2a2a" stroke-width="0.3"/>
<rect x="327.60" y="388.50" width="7.40" height="9.80" rx="0" fill="none" stroke="#666" stroke-width="0.7"/>
<text x="335.80" y="398.50" font-size="13" fill="#333" font-weight="normal" font-style="normal" textLength="10.40" lengthAdjust="spacingAndGlyphs" style='font-family:"Liberation Sans", sans-serif'>60</text>
<line x1="446.70" y1="126.70" x2="590.90" y2="126.70" stroke="#080808" stroke-width="1.0"/>
<line x1="618.30" y1="126.70" x2="758.10" y2="126.70" stroke="#080808" stroke-width="1.0"/>
<polygon points="446.70,126.70 453.70,125.20 453.70,128.20" fill="#080808" stroke="#080808" stroke-width="0.3"/>
<polygon points="758.10,126.70 751.10,128.20 751.10,125.20" fill="#080808" stroke="#080808" stroke-width="0.3"/>
<line x1="446.70" y1="126.70" x2="446.70" y2="214.00" stroke="#080808" stroke-width="1.0"/>
<text x="592.90" y="131.80" font-size="13" fill="#333" font-weight="normal" font-style="normal" textLength="22.60" lengthAdjust="spacingAndGlyphs" style='font-family:"Liberation Sans", sans-serif'>134.5</text>
<rect x="500.50" y="92.40" width="34.00" height="35.10" rx="0" fill="none" stroke="#080808" stroke-width="1.3"/>
<polyline points="502.30,92.40 502.30,70.10 530.70,70.10 530.70,92.40" fill="none" stroke="#080808" stroke-width="1.2"/>
<line x1="511.50" y1="70.10" x2="511.50" y2="92.40" stroke="#080808" stroke-width="1.6"/>
<line x1="521.60" y1="70.10" x2="521.60" y2="92.40" stroke="#080808" stroke-width="1.6"/>
<path d="M491.4,88 L491.4,113 Q491.4,114.8 493.5,114.8 L495.5,114.8 L497.2,99 L500.5,99" fill="none" stroke="#080808" stroke-width="1.0"/>
<line x1="491.40" y1="88.00" x2="491.40" y2="113.00" stroke="#080808" stroke-width="1.6"/>
<line x1="492.40" y1="95.00" x2="500.50" y2="95.00" stroke="#080808" stroke-width="1.0"/>
<path d="M492.4,95 L492.4,87 Q492.4,80 494.5,78.4 L497.5,78.4 Q499.5,80 499.5,83 L499.5,85.5 L496.1,85.5 L496.1,95" fill="none" stroke="#080808" stroke-width="1.0"/>
<line x1="509.50" y1="127.50" x2="510.20" y2="196.70" stroke="#080808" stroke-width="1.1"/>
<line x1="525.30" y1="127.50" x2="526.40" y2="196.70" stroke="#080808" stroke-width="1.1"/>
<path d="M509.6,150.5 Q514,146.5 518,150.5 Q522,154.5 525.6,150.5" fill="none" stroke="#080808" stroke-width="1.0"/>
<path d="M509.7,154.5 Q514,150.5 518,154.5 Q522,158.5 525.7,154.5" fill="none" stroke="#080808" stroke-width="1.0"/>
<path d="M512,197 Q512,192.5 518,192.5 Q524,192.5 524,197 Z" fill="#999" stroke="#080808" stroke-width="1.1"/>
<path d="M505.5,206.1 L505.5,199 Q505.5,197.4 507.5,197.4 L530.4,197.4 Q532.4,197.4 532.4,199.4 L532.4,212.2" fill="none" stroke="#080808" stroke-width="1.1"/>
<line x1="505.50" y1="206.10" x2="532.40" y2="205.60" stroke="#080808" stroke-width="1.1"/>
<line x1="505.50" y1="206.10" x2="500.00" y2="212.30" stroke="#080808" stroke-width="1.1"/>
<path d="M446.7,358 L446.7,217 Q446.7,214.2 449.5,214.1 L532.8,212.1" fill="none" stroke="#080808" stroke-width="1.2"/>
<line x1="532.80" y1="212.10" x2="741.30" y2="212.10" stroke="#080808" stroke-width="1.1"/>
<line x1="741.30" y1="212.10" x2="758.30" y2="211.30" stroke="#080808" stroke-width="1.1"/>
<line x1="446.70" y1="358.00" x2="532.80" y2="359.00" stroke="#080808" stroke-width="1.2"/>
<path d="M446.7,250 Q446.7,253.4 450,253.4 L500,253.4" fill="none" stroke="#080808" stroke-width="1.1"/>
<rect x="492.10" y="238.00" width="7.00" height="13.80" rx="0" fill="none" stroke="#080808" stroke-width="1.0"/>
<path d="M503,236.5 Q500.5,238 500.5,241 L500.5,250 Q500.5,252 502.5,254" fill="none" stroke="#080808" stroke-width="1.1"/>
<line x1="503.00" y1="236.90" x2="758.30" y2="236.40" stroke="#080808" stroke-width="1.1"/>
<path d="M446.7,328 Q446.7,331.6 450,331.6 L532.8,334.6" fill="none" stroke="#080808" stroke-width="1.1"/>
<path d="M446.7,338 Q446.7,341.4 450,341.4 L500.7,341.4" fill="none" stroke="#080808" stroke-width="1.1"/>
<rect x="492.30" y="343.50" width="7.20" height="12.90" rx="0" fill="none" stroke="#080808" stroke-width="1.0"/>
<path d="M503,340.5 Q500.7,342 500.7,345 L500.7,355 Q500.7,357.5 503,358.3" fill="none" stroke="#080808" stroke-width="1.1"/>
<line x1="532.80" y1="334.40" x2="741.30" y2="334.10" stroke="#080808" stroke-width="1.1"/>
<line x1="532.80" y1="358.60" x2="758.30" y2="358.40" stroke="#080808" stroke-width="1.2"/>
<line x1="532.30" y1="197.40" x2="532.30" y2="359.00" stroke="#080808" stroke-width="1.1"/>
<line x1="535.30" y1="212.10" x2="535.30" y2="359.00" stroke="#555" stroke-width="0.9"/>
<line x1="532.30" y1="218.40" x2="535.30" y2="218.40" stroke="#080808" stroke-width="0.9"/>
<line x1="532.30" y1="353.50" x2="535.30" y2="353.50" stroke="#080808" stroke-width="0.9"/>
<line x1="548.40" y1="212.00" x2="548.40" y2="358.60" stroke="#080808" stroke-width="1.1"/>
<path d="M555.7,211.8 L555.7,184.1 L568,174.6 L617.6,174.6 Q619.6,174.6 619.6,176.6 L619.6,211.8" fill="none" stroke="#080808" stroke-width="1.1"/>
<line x1="555.70" y1="208.40" x2="619.60" y2="208.40" stroke="#080808" stroke-width="1.0"/>
<line x1="580.40" y1="179.30" x2="580.40" y2="199.00" stroke="#080808" stroke-width="1.0"/>
<line x1="595.00" y1="179.30" x2="595.00" y2="199.00" stroke="#080808" stroke-width="1.0"/>
<ellipse cx="587.7" cy="197.6" rx="6.6" ry="2.2" fill="#999" stroke="#080808" stroke-width="1"/>
<line x1="580.40" y1="199.80" x2="595.00" y2="199.80" stroke="#080808" stroke-width="1.0"/>
<path d="M577.5,203.5 L580.4,199.8 M595,199.8 L597.9,203.5" fill="none" stroke="#080808" stroke-width="1.0"/>
<line x1="619.60" y1="189.60" x2="643.40" y2="189.60" stroke="#080808" stroke-width="1.1"/>
<line x1="619.60" y1="205.80" x2="643.40" y2="205.80" stroke="#080808" stroke-width="1.1"/>
<line x1="643.40" y1="189.60" x2="643.40" y2="205.80" stroke="#080808" stroke-width="1.0"/>
<path d="M643.4,205.8 Q664,204 664,186.5 L663.7,155.9" fill="none" stroke="#080808" stroke-width="1.1"/>
<path d="M643.4,189.6 Q647.5,189.5 647.6,185 L647.9,155.9" fill="none" stroke="#080808" stroke-width="1.1"/>
<path d="M647.9,152 Q652,147.5 655.8,152 Q659.8,156.5 663.7,152" fill="none" stroke="#080808" stroke-width="1.0"/>
<path d="M647.9,155.9 Q652,151.5 655.8,155.9 Q659.8,160.3 663.7,155.9" fill="none" stroke="#080808" stroke-width="1.0"/>
<line x1="647.90" y1="137.50" x2="647.90" y2="151.60" stroke="#080808" stroke-width="1.0"/>
<line x1="663.70" y1="137.50" x2="663.70" y2="151.60" stroke="#080808" stroke-width="1.0"/>
<line x1="647.90" y1="137.50" x2="663.70" y2="137.50" stroke="#080808" stroke-width="1.0"/>
<line x1="651.00" y1="134.80" x2="651.00" y2="137.50" stroke="#080808" stroke-width="0.8"/>
<line x1="654.50" y1="134.80" x2="654.50" y2="137.50" stroke="#080808" stroke-width="0.8"/>
<line x1="658.00" y1="134.80" x2="658.00" y2="137.50" stroke="#080808" stroke-width="0.8"/>
<line x1="661.30" y1="134.80" x2="661.30" y2="137.50" stroke="#080808" stroke-width="0.8"/>
<rect x="548.40" y="257.30" width="192.90" height="56.30" rx="0" fill="#8a8a8a" stroke="none" stroke-width="0"/>
<line x1="548.40" y1="259.50" x2="741.30" y2="259.50" stroke="#fff" stroke-width="1.0"/>
<line x1="548.40" y1="264.50" x2="741.30" y2="264.50" stroke="#fff" stroke-width="1.0"/>
<line x1="548.40" y1="269.50" x2="741.30" y2="269.50" stroke="#fff" stroke-width="1.0"/>
<line x1="548.40" y1="275.50" x2="741.30" y2="275.50" stroke="#fff" stroke-width="1.0"/>
<line x1="548.40" y1="280.50" x2="741.30" y2="280.50" stroke="#fff" stroke-width="1.0"/>
<line x1="548.40" y1="290.50" x2="741.30" y2="290.50" stroke="#fff" stroke-width="1.0"/>
<line x1="548.40" y1="295.50" x2="741.30" y2="295.50" stroke="#fff" stroke-width="1.0"/>
<line x1="548.40" y1="301.50" x2="741.30" y2="301.50" stroke="#fff" stroke-width="1.0"/>
<line x1="548.40" y1="307.50" x2="741.30" y2="307.50" stroke="#fff" stroke-width="1.0"/>
<line x1="548.40" y1="312.50" x2="741.30" y2="312.50" stroke="#fff" stroke-width="1.0"/>
<line x1="548.40" y1="257.50" x2="741.30" y2="257.50" stroke="#111" stroke-width="0.9"/>
<line x1="548.40" y1="262.50" x2="741.30" y2="262.50" stroke="#111" stroke-width="0.9"/>
<line x1="548.40" y1="267.50" x2="741.30" y2="267.50" stroke="#111" stroke-width="0.9"/>
<line x1="548.40" y1="273.00" x2="741.30" y2="273.00" stroke="#111" stroke-width="0.9"/>
<line x1="548.40" y1="278.50" x2="741.30" y2="278.50" stroke="#111" stroke-width="0.9"/>
<line x1="548.40" y1="292.50" x2="741.30" y2="292.50" stroke="#111" stroke-width="0.9"/>
<line x1="548.40" y1="297.50" x2="741.30" y2="297.50" stroke="#111" stroke-width="0.9"/>
<line x1="548.40" y1="303.50" x2="741.30" y2="303.50" stroke="#111" stroke-width="0.9"/>
<line x1="548.40" y1="309.00" x2="741.30" y2="309.00" stroke="#111" stroke-width="0.9"/>
<line x1="548.40" y1="313.80" x2="741.30" y2="313.80" stroke="#111" stroke-width="0.9"/>
<line x1="548.40" y1="285.30" x2="741.30" y2="285.30" stroke="#080808" stroke-width="3.0"/>
<line x1="507.20" y1="285.30" x2="548.40" y2="285.30" stroke="#080808" stroke-width="1.0"/>
<line x1="741.30" y1="285.30" x2="855.30" y2="285.30" stroke="#080808" stroke-width="1.0"/>
<line x1="741.30" y1="192.00" x2="741.30" y2="358.40" stroke="#080808" stroke-width="1.2"/>
<line x1="758.30" y1="126.70" x2="758.30" y2="358.50" stroke="#080808" stroke-width="1.2"/>
<rect x="747.70" y="317.40" width="9.20" height="15.60" rx="0" fill="none" stroke="#080808" stroke-width="1.0"/>
<line x1="765.30" y1="203.60" x2="765.30" y2="224.30" stroke="#080808" stroke-width="1.0"/>
<line x1="765.40" y1="224.30" x2="765.40" y2="346.00" stroke="#080808" stroke-width="2.2"/>
<line x1="758.30" y1="224.30" x2="887.00" y2="224.30" stroke="#080808" stroke-width="1.0"/>
<line x1="758.30" y1="346.20" x2="887.00" y2="346.20" stroke="#080808" stroke-width="1.0"/>
<line x1="767.00" y1="268.10" x2="863.40" y2="268.10" stroke="#080808" stroke-width="1.1"/>
<line x1="767.00" y1="302.30" x2="863.40" y2="302.30" stroke="#080808" stroke-width="1.1"/>
<line x1="767.50" y1="268.10" x2="767.50" y2="302.30" stroke="#080808" stroke-width="2.0"/>
<line x1="831.00" y1="219.70" x2="831.00" y2="302.60" stroke="#080808" stroke-width="1.1"/>
<line x1="831.00" y1="268.10" x2="831.00" y2="302.30" stroke="#080808" stroke-width="2.0"/>
<path d="M831,279.2 L782.7,279.2 A6.05,6.05 0 0 0 782.7,291.3 L831,291.3" fill="none" stroke="#080808" stroke-width="1.2"/>
<line x1="863.90" y1="268.10" x2="863.90" y2="302.30" stroke="#080808" stroke-width="1.0"/>
<polygon points="863.90,268.10 865.40,273.10 862.40,273.10" fill="#080808" stroke="#080808" stroke-width="0.3"/>
<polygon points="863.90,302.30 862.40,297.30 865.40,297.30" fill="#080808" stroke="#080808" stroke-width="0.3"/>
<text x="0" y="0" font-size="12.5" fill="#333" textLength="30.2" lengthAdjust="spacingAndGlyphs" transform="translate(877.5,300.7) rotate(-90)" style='font-family:"Liberation Sans", sans-serif'>Ø14h6</text>
<line x1="887.00" y1="224.30" x2="887.00" y2="346.20" stroke="#080808" stroke-width="1.0"/>
<polygon points="887.00,224.30 888.50,230.30 885.50,230.30" fill="#080808" stroke="#080808" stroke-width="0.3"/>
<polygon points="887.00,346.20 885.50,340.20 888.50,340.20" fill="#080808" stroke="#080808" stroke-width="0.3"/>
<text x="0" y="0" font-size="12.5" fill="#333" textLength="29.3" lengthAdjust="spacingAndGlyphs" transform="translate(899.2,302.6) rotate(-90)" style='font-family:"Liberation Sans", sans-serif'>Ø50h7</text>
<rect x="774.50" y="136.20" width="67.50" height="16.30" rx="0" fill="none" stroke="#080808" stroke-width="1.0"/>
<line x1="798.60" y1="136.20" x2="798.60" y2="152.50" stroke="#080808" stroke-width="1.0"/>
<line x1="829.00" y1="136.20" x2="829.00" y2="152.50" stroke="#080808" stroke-width="1.0"/>
<line x1="779.00" y1="150.00" x2="794.00" y2="150.00" stroke="#080808" stroke-width="1.1"/>
<line x1="786.70" y1="140.30" x2="786.70" y2="150.00" stroke="#080808" stroke-width="1.1"/>
<text x="801.80" y="148.90" font-size="12.5" fill="#333" font-weight="normal" font-style="normal" textLength="23.60" lengthAdjust="spacingAndGlyphs" style='font-family:"Liberation Sans", sans-serif'>0.04</text>
<text x="831.60" y="148.90" font-size="12.5" fill="#333" font-weight="normal" font-style="normal" textLength="7.20" lengthAdjust="spacingAndGlyphs" style='font-family:"Liberation Sans", sans-serif'>A</text>
<line x1="758.30" y1="144.20" x2="774.50" y2="144.20" stroke="#080808" stroke-width="1.0"/>
<polygon points="758.30,144.20 763.30,142.70 763.30,145.70" fill="#080808" stroke="#080808" stroke-width="0.3"/>
<line x1="758.30" y1="168.90" x2="832.00" y2="168.90" stroke="#080808" stroke-width="1.0"/>
<polygon points="758.30,168.90 765.30,167.40 765.30,170.40" fill="#080808" stroke="#080808" stroke-width="0.3"/>
<polygon points="832.00,168.90 825.00,170.40 825.00,167.40" fill="#080808" stroke="#080808" stroke-width="0.3"/>
<line x1="831.50" y1="168.90" x2="831.50" y2="219.70" stroke="#080808" stroke-width="1.0"/>
<text x="789.70" y="166.20" font-size="13" fill="#333" font-weight="normal" font-style="normal" textLength="10.70" lengthAdjust="spacingAndGlyphs" style='font-family:"Liberation Sans", sans-serif'>30</text>
<line x1="722.80" y1="192.00" x2="777.20" y2="192.00" stroke="#080808" stroke-width="1.0"/>
<polygon points="741.30,192.00 734.30,193.50 734.30,190.50" fill="#080808" stroke="#080808" stroke-width="0.3"/>
<polygon points="758.30,192.00 765.30,190.50 765.30,193.50" fill="#080808" stroke="#080808" stroke-width="0.3"/>
<text x="746.90" y="188.50" font-size="13" fill="#333" font-weight="normal" font-style="normal" textLength="5.30" lengthAdjust="spacingAndGlyphs" style='font-family:"Liberation Sans", sans-serif'>7</text>
<line x1="739.80" y1="203.60" x2="798.60" y2="203.60" stroke="#080808" stroke-width="1.0"/>
<polygon points="758.30,203.60 751.30,205.10 751.30,202.10" fill="#080808" stroke="#080808" stroke-width="0.3"/>
<polygon points="765.20,203.60 772.20,202.10 772.20,205.10" fill="#080808" stroke="#080808" stroke-width="0.3"/>
<text x="791.50" y="201.00" font-size="13" fill="#333" font-weight="normal" font-style="normal" textLength="5.30" lengthAdjust="spacingAndGlyphs" style='font-family:"Liberation Sans", sans-serif'>3</text>
<line x1="776.80" y1="219.70" x2="831.50" y2="219.70" stroke="#080808" stroke-width="1.0"/>
<line x1="776.80" y1="219.70" x2="776.80" y2="268.10" stroke="#080808" stroke-width="1.0"/>
<polygon points="776.80,219.70 783.80,218.20 783.80,221.20" fill="#080808" stroke="#080808" stroke-width="0.3"/>
<polygon points="831.50,219.70 824.50,221.20 824.50,218.20" fill="#080808" stroke="#080808" stroke-width="0.3"/>
<text x="793.30" y="217.00" font-size="13" fill="#333" font-weight="normal" font-style="normal" textLength="18.70" lengthAdjust="spacingAndGlyphs" style='font-family:"Liberation Sans", sans-serif'>22.5</text>
<line x1="816.60" y1="259.50" x2="816.60" y2="243.60" stroke="#080808" stroke-width="1.0" stroke-dasharray="6,3"/>
<line x1="816.60" y1="243.60" x2="842.00" y2="243.60" stroke="#080808" stroke-width="1.0"/>
<polygon points="849.00,243.60 838.00,246.20 838.00,241.00" fill="#080808" stroke="#080808" stroke-width="0.3"/>
<text x="840.50" y="239.30" font-size="13" fill="#333" font-weight="normal" font-style="normal" textLength="7.00" lengthAdjust="spacingAndGlyphs" style='font-family:"Liberation Sans", sans-serif'>A</text>
<line x1="816.60" y1="311.00" x2="816.60" y2="327.20" stroke="#080808" stroke-width="1.0" stroke-dasharray="6,3"/>
<line x1="816.60" y1="327.20" x2="842.00" y2="327.20" stroke="#080808" stroke-width="1.0"/>
<polygon points="849.00,327.20 838.00,329.80 838.00,324.60" fill="#080808" stroke="#080808" stroke-width="0.3"/>
<text x="840.70" y="342.30" font-size="13" fill="#333" font-weight="normal" font-style="normal" textLength="6.50" lengthAdjust="spacingAndGlyphs" style='font-family:"Liberation Sans", sans-serif'>A</text>
<circle cx="797.00" cy="327.70" r="14.60" fill="none" stroke="#080808" stroke-width="1.0"/>
<line x1="797.00" y1="306.70" x2="797.00" y2="313.10" stroke="#080808" stroke-width="1.0"/>
<text x="793.00" y="332.50" font-size="11" fill="#333" font-weight="normal" font-style="normal" textLength="8.00" lengthAdjust="spacingAndGlyphs" style='font-family:"Liberation Sans", sans-serif'>A</text>
<rect x="774.00" y="352.80" width="49.70" height="16.20" rx="0" fill="none" stroke="#080808" stroke-width="1.0"/>
<line x1="793.40" y1="352.80" x2="793.40" y2="369.00" stroke="#080808" stroke-width="1.0"/>
<line x1="774.00" y1="352.80" x2="774.00" y2="304.30" stroke="#080808" stroke-width="1.0"/>
<polygon points="774.00,304.30 775.50,310.30 772.50,310.30" fill="#080808" stroke="#080808" stroke-width="0.3"/>
<line x1="777.50" y1="366.50" x2="788.50" y2="356.20" stroke="#080808" stroke-width="1.0"/>
<polygon points="790.50,354.50 788.06,359.22 785.61,356.59" fill="#080808" stroke="#080808" stroke-width="0.3"/>
<text x="797.00" y="365.50" font-size="12.5" fill="#333" font-weight="normal" font-style="normal" textLength="23.40" lengthAdjust="spacingAndGlyphs" style='font-family:"Liberation Sans", sans-serif'>0.02</text>
<defs><clipPath id="sc"><path d="M967.2,285.5 A17,17 0 1 1 933.2,285.5 A17,17 0 1 1 967.2,285.5 Z M955.2,285.5 A5,5 0 1 0 945.2,285.5 A5,5 0 1 0 955.2,285.5 Z" clip-rule="evenodd"/></clipPath></defs>
<g clip-path="url(#sc)"><line x1="906.20" y1="310.50" x2="956.20" y2="260.50" stroke="#080808" stroke-width="1"/><line x1="925.20" y1="310.50" x2="975.20" y2="260.50" stroke="#080808" stroke-width="1"/><line x1="940.20" y1="310.50" x2="990.20" y2="260.50" stroke="#080808" stroke-width="1"/></g>
<rect x="960.20" y="279.40" width="20.90" height="11.90" rx="0" fill="#fff" stroke="#080808" stroke-width="1.1"/>
<circle cx="950.20" cy="285.50" r="17.00" fill="none" stroke="#080808" stroke-width="1.2"/>
<circle cx="950.20" cy="285.50" r="5.00" fill="none" stroke="#080808" stroke-width="1.1"/>
<rect x="960.20" y="279.40" width="20.90" height="11.90" rx="0" fill="#fff" stroke="#080808" stroke-width="1.1"/>
<line x1="932.70" y1="287.00" x2="932.70" y2="324.30" stroke="#080808" stroke-width="1.0"/>
<line x1="959.90" y1="291.30" x2="959.90" y2="324.30" stroke="#080808" stroke-width="1.0"/>
<line x1="932.70" y1="324.30" x2="959.90" y2="324.30" stroke="#080808" stroke-width="1.0"/>
<polygon points="932.70,324.30 937.70,322.80 937.70,325.80" fill="#080808" stroke="#080808" stroke-width="0.3"/>
<polygon points="959.90,324.30 954.90,325.80 954.90,322.80" fill="#080808" stroke="#080808" stroke-width="0.3"/>
<text x="943.70" y="336.40" font-size="12" fill="#333" font-weight="normal" font-style="normal" textLength="7.40" lengthAdjust="spacingAndGlyphs" style='font-family:"Liberation Sans", sans-serif'>11</text>
<line x1="981.10" y1="251.50" x2="981.10" y2="279.40" stroke="#080808" stroke-width="1.0"/>
<line x1="981.10" y1="291.30" x2="981.10" y2="310.10" stroke="#080808" stroke-width="1.0"/>
<polygon points="981.10,279.40 979.60,274.40 982.60,274.40" fill="#080808" stroke="#080808" stroke-width="0.3"/>
<polygon points="981.10,291.30 982.60,296.30 979.60,296.30" fill="#080808" stroke="#080808" stroke-width="0.3"/>
<text x="0" y="0" font-size="12" fill="#333" textLength="6.3" lengthAdjust="spacingAndGlyphs" transform="translate(994.3,259.3) rotate(-90)" style='font-family:"Liberation Sans", sans-serif'>5</text>
</svg>
</body></html>
